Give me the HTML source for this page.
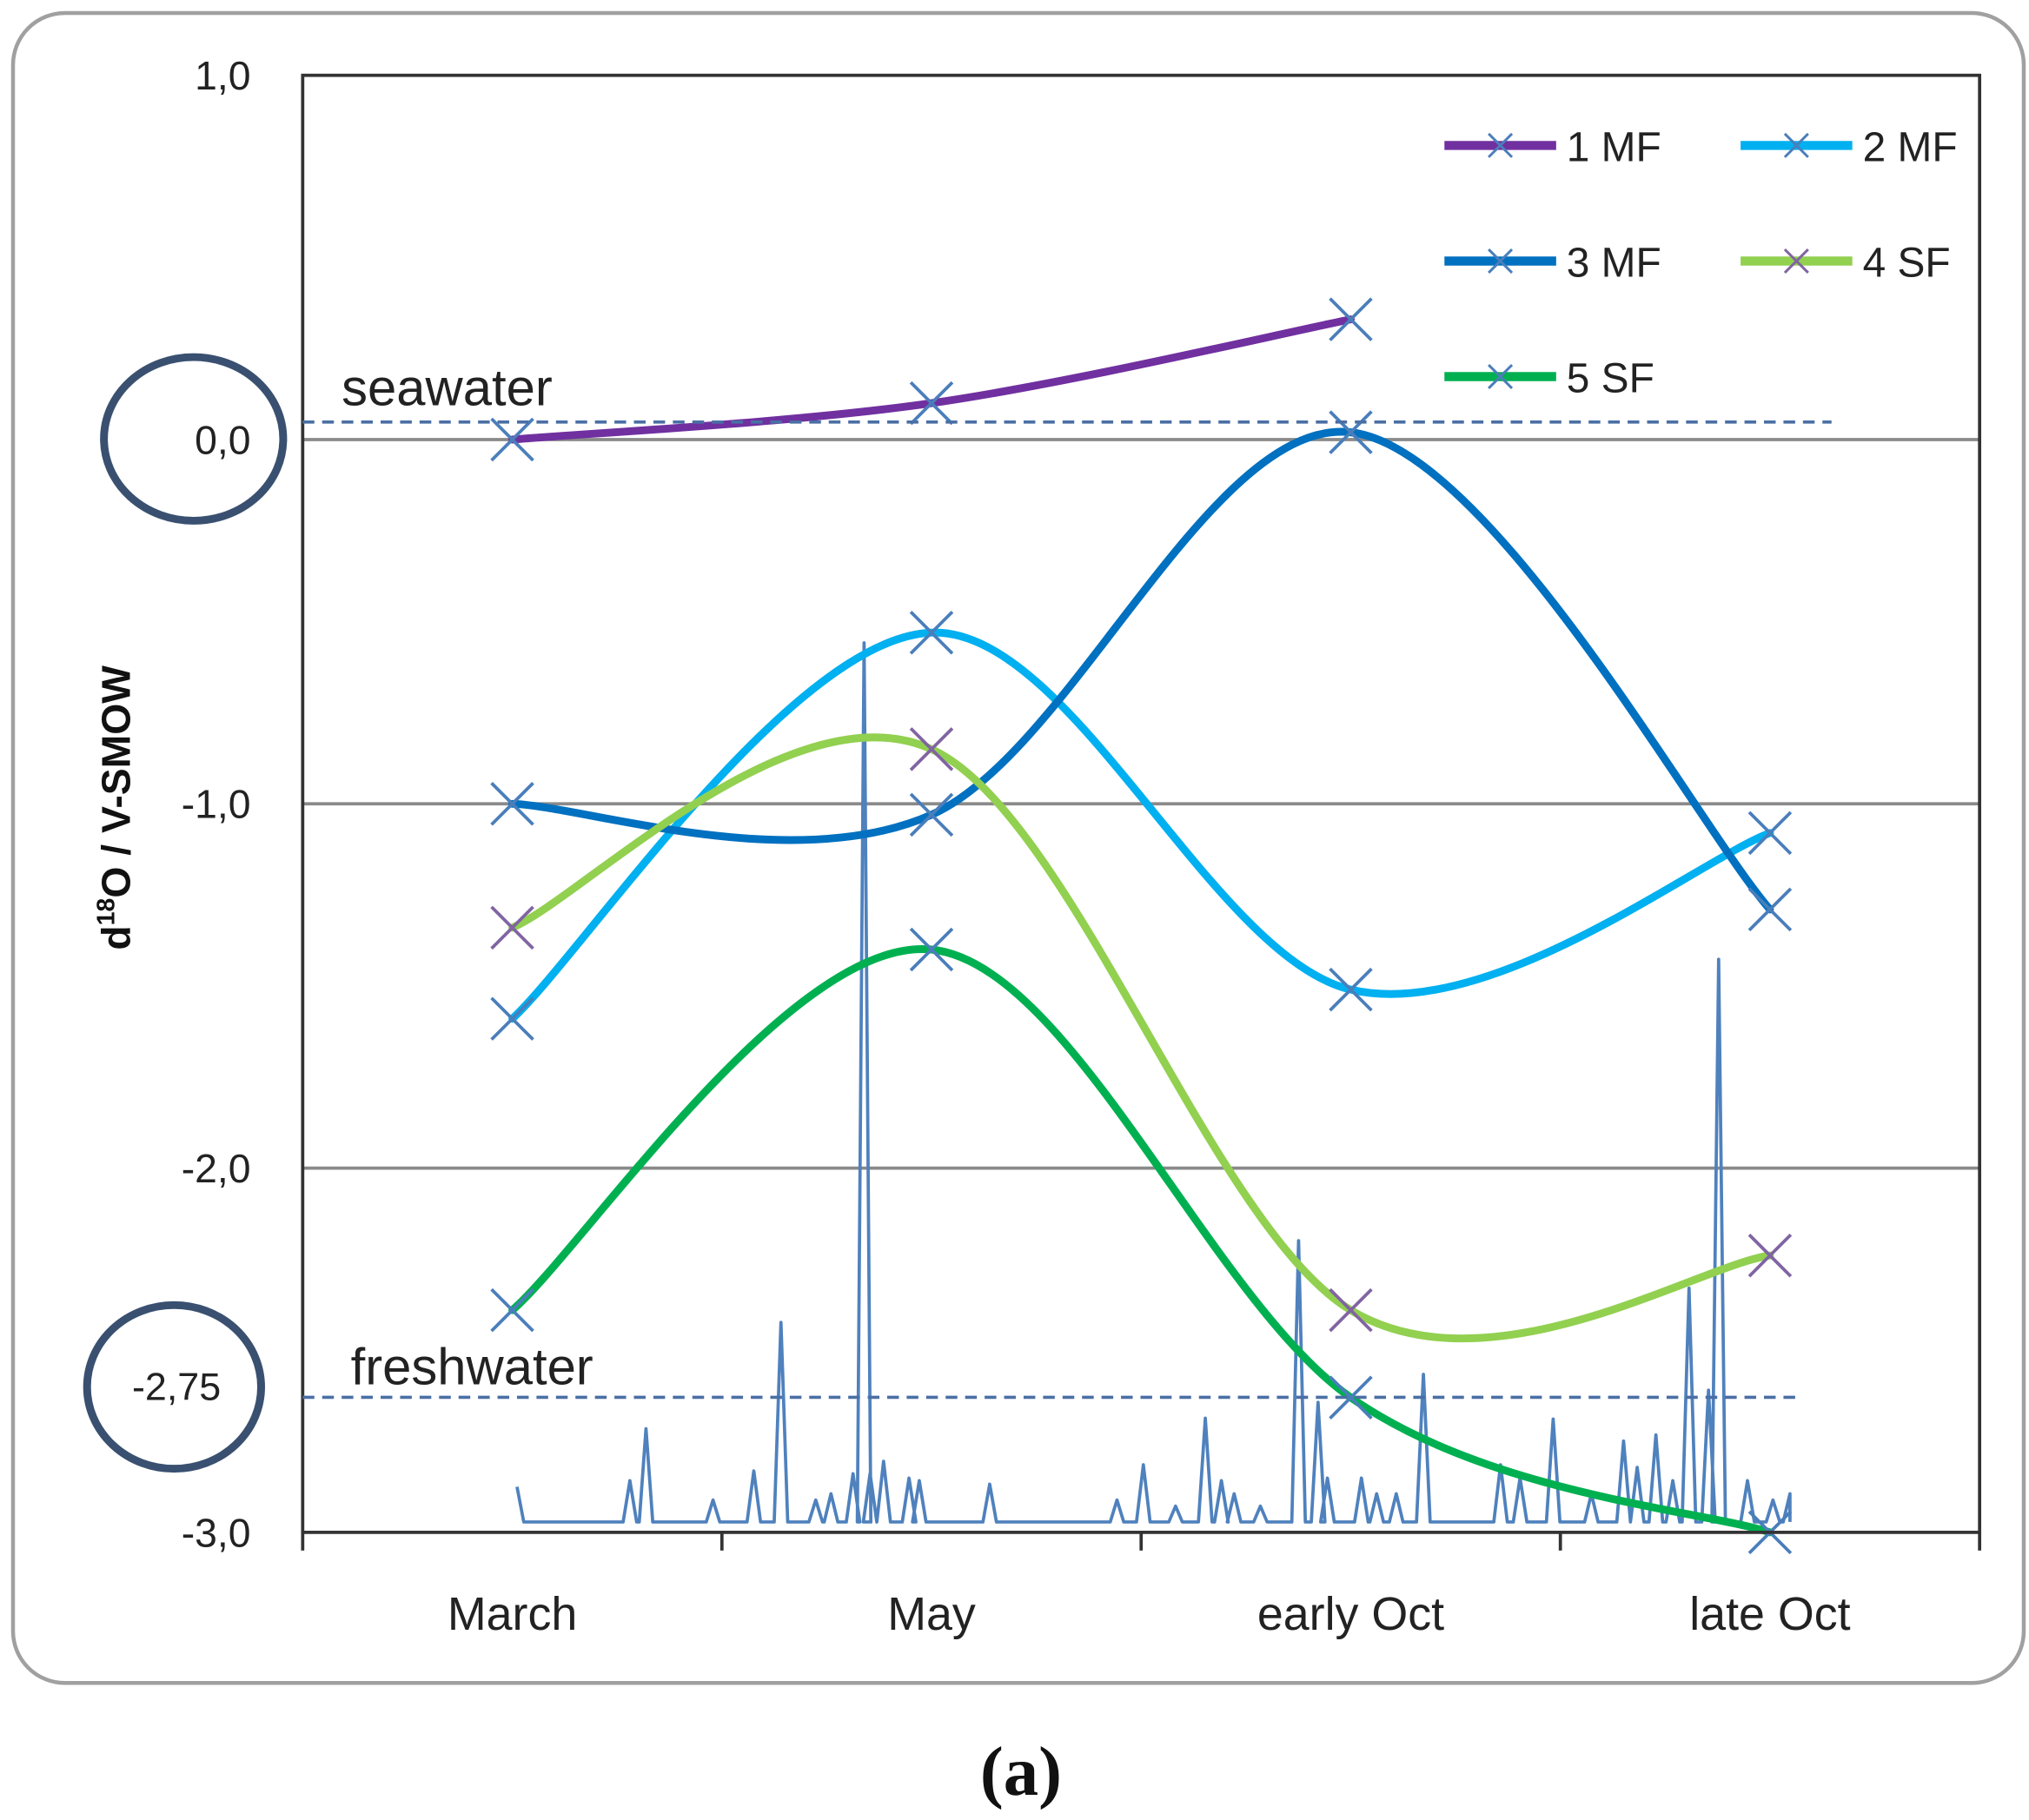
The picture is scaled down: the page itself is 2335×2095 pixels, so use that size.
<!DOCTYPE html>
<html><head><meta charset="utf-8"><style>
html,body{margin:0;padding:0;background:#fff;}
svg{display:block;font-family:"Liberation Sans",sans-serif;}
</style></head><body>
<svg id="chart" width="2335" height="2095" viewBox="0 0 1562 1401.5" xmlns="http://www.w3.org/2000/svg">
<rect x="10" y="10" width="1548" height="1286" rx="40" ry="40" fill="#fff" stroke="#a0a0a0" stroke-width="3"/>
<g id="grid"></g>
<g id="precip"></g>
<g id="series"></g>
<g id="axes"></g>
<g id="legend"></g>
<line x1="233" y1="325" x2="1410" y2="325" stroke="#4a6fa5" stroke-width="2.5" stroke-dasharray="9,6"/>
<line x1="233" y1="1076" x2="1385" y2="1076" stroke="#4a6fa5" stroke-width="2.5" stroke-dasharray="9,6"/>
<text x="263" y="312" font-size="40" fill="#222">seawater</text>
<text x="270" y="1066" font-size="40" fill="#222">freshwater</text>
<ellipse cx="149" cy="338" rx="69" ry="63" fill="none" stroke="#3a5070" stroke-width="6"/>
<ellipse cx="134" cy="1068" rx="67" ry="63" fill="none" stroke="#3a5070" stroke-width="6"/>
<text x="170" y="1078" font-size="30" fill="#222" text-anchor="end">-2,75</text>
<text transform="translate(100,622) rotate(-90)" font-size="31" font-weight="bold" fill="#111" text-anchor="middle">d<tspan font-size="19" dy="-12">18</tspan><tspan dy="12">O / V-SMOW</tspan></text>
<text x="786" y="1382" font-size="54" font-weight="bold" font-family="Liberation Serif,serif" text-anchor="middle" fill="#111">(a)</text>
</svg>
<script>
const categories = ["March","May","early Oct","late Oct"];
const yTicks = [1.0, 0.0, -1.0, -2.0, -3.0];
const yTickLabels = ["1,0","0,0","-1,0","-2,0","-3,0"];
const seriesNames = ["1 MF","2 MF","3 MF","4 SF","5 SF"];
const s1MF = [0.0, 0.1, 0.33, null];
const s2MF = [-1.59, -0.53, -1.51, -1.08];
const s3MF = [-1.0, -1.03, 0.02, -1.29];
const s4SF = [-1.34, -0.85, -2.39, -2.24];
const s5SF = [-2.39, -1.40, -2.63, -3.0];
const precipDays = [0,13.3,15.2,23.1,27.9,31.1,35.2,37,39.6,40.9,41.6,43.2,46.2,47.4,55.7,70.7,73.8,77.6,81.1,83,84.5,87.6,92.1,94.4,95.5,99.5,101.3,103.6,106.8,115.9,118.2,122.1,126.6,130.4,132,134.2,136.2,138.1,140.4,141.6,145,148,150];
const precipMm = [4,4.7,10.6,2.5,5.8,22.7,2.5,3.2,5.5,100,5.5,6.9,5,4.7,4.3,2.5,6.5,1.8,11.8,4.7,3.2,1.8,32,13.6,5,5,3.2,3.2,16.8,6.5,5,11.7,3.2,9.2,6.2,9.9,4.7,26.6,15,64,4.7,2.5,3.2];
const colors = ["#7030a0","#00b0f0","#0070c0","#92d050","#00b050"];
const markerColors = ["#4a7ebb","#4a7ebb","#4a7ebb","#8064a2","#4a7ebb"];
const allSeries = [s1MF,s2MF,s3MF,s4SF,s5SF];

const NS="http://www.w3.org/2000/svg";
const L=233,R=1524,T=58,B=1180;
const yScale=v=>T+(1.0-v)*(B-T)/4.0;
const xScale=i=>L+(R-L)/4*(i+0.5);
const dayMax=150, pMax=100;
const xDay=d=>398+d*(1378-398)/dayMax;
const yP=m=>1172-m*(1172-495)/pMax;
function mk(tag,attrs,parent){const e=document.createElementNS(NS,tag);for(const k in attrs)e.setAttribute(k,attrs[k]);parent.appendChild(e);return e;}

const grid=document.getElementById('grid');
yTicks.forEach((t,i)=>{
  if(t<1&&t>-3){const g=mk('line',{x1:L,x2:R,y1:yScale(t),y2:yScale(t),stroke:'#8a8a8a','stroke-width':2.5},grid);
  
  }
  const tx=mk('text',{x:193,y:yScale(t)+11,'font-size':31,'text-anchor':'end',fill:'#222'},grid);
  tx.textContent=yTickLabels[i];
  
  
});
const axes=document.getElementById('axes');
const border=mk('rect',{x:L,y:T,width:R-L,height:B-T,fill:'none',stroke:'#333','stroke-width':2.5},axes);


for(let i=0;i<=4;i++){const t=mk('line',{x1:L+(R-L)/4*i,x2:L+(R-L)/4*i,y1:B,y2:B+14,stroke:'#333','stroke-width':2.5},axes);

}
categories.forEach((c,i)=>{const t=mk('text',{x:xScale(i),y:1255,'font-size':36,'text-anchor':'middle',fill:'#222'},axes);t.textContent=c;

});

// precipitation: spikes with baseline between
let pd='';
precipDays.forEach((d,i)=>{
  const a=Math.max(0,d-0.8), b=Math.min(dayMax,d+0.8);
  if(i===0){pd+='M'+xDay(d).toFixed(1)+','+yP(precipMm[i]).toFixed(1);}
  else{pd+='L'+xDay(a).toFixed(1)+','+yP(0).toFixed(1)+'L'+xDay(d).toFixed(1)+','+yP(precipMm[i]).toFixed(1);}
  pd+='L'+xDay(b).toFixed(1)+','+yP(0).toFixed(1);
});
const pp=mk('path',{d:pd,fill:'none',stroke:'#4f81bd','stroke-width':2.5,'stroke-linejoin':'round'},document.getElementById('precip'));



function smoothPath(pts){
  let d='M'+pts[0][0]+','+pts[0][1];
  for(let i=0;i<pts.length-1;i++){
    const p0=pts[i-1]||pts[i],p1=pts[i],p2=pts[i+1],p3=pts[i+2]||pts[i+1];
    const c1=[p1[0]+(p2[0]-p0[0])/6,p1[1]+(p2[1]-p0[1])/6];
    const c2=[p2[0]-(p3[0]-p1[0])/6,p2[1]-(p3[1]-p1[1])/6];
    d+='C'+c1.join(',')+' '+c2.join(',')+' '+p2.join(',');
  }
  return d;
}
const sg=document.getElementById('series');
allSeries.forEach((s,k)=>{
  const pts=[];s.forEach((v,i)=>{if(v!==null)pts.push([xScale(i),yScale(v)]);});
  const p=mk('path',{d:smoothPath(pts),fill:'none',stroke:colors[k],'stroke-width':6,'stroke-linecap':'round'},sg);
  
  
  pts.forEach(q=>{const m=mk('path',{d:`M${q[0]-16},${q[1]-16}L${q[0]+16},${q[1]+16}M${q[0]-16},${q[1]+16}L${q[0]+16},${q[1]-16}`,stroke:markerColors[k],'stroke-width':2.5},sg);
  
  });
});

const lg=document.getElementById('legend');
const lpos=[[1112,112],[1340,112],[1112,201],[1340,201],[1112,290]];
seriesNames.forEach((n,k)=>{
  const [x,y]=lpos[k];
  const ln=mk('line',{x1:x,x2:x+86,y1:y,y2:y,stroke:colors[k],'stroke-width':7},lg);
  
  
  const cx=x+43;
  const m=mk('path',{d:`M${cx-9},${y-9}L${cx+9},${y+9}M${cx-9},${y+9}L${cx+9},${y-9}`,stroke:markerColors[k],'stroke-width':2},lg);
  
  
  const t=mk('text',{x:x+94,y:y+12,'font-size':32,fill:'#222'},lg);t.textContent=n;
  
  
});
</script>
</body></html>
